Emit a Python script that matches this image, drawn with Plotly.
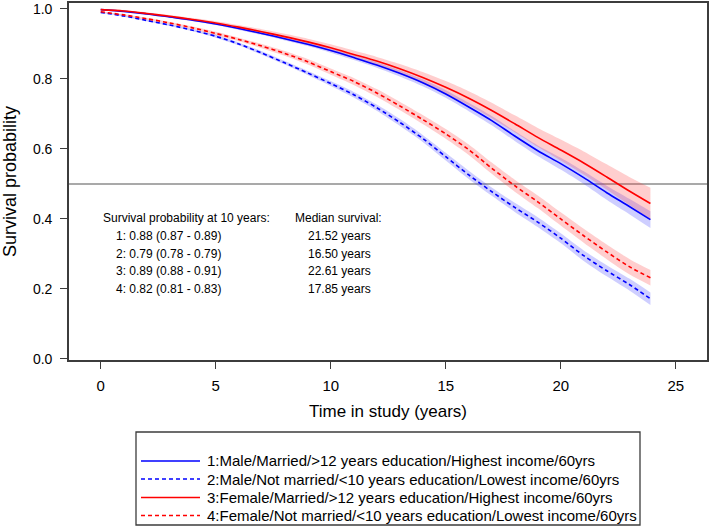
import plotly.graph_objects as go

# ---- data ----
time = [0, 1, 2, 3, 4, 5, 6, 7, 8, 9, 10, 11, 12, 13, 14, 15, 16, 17, 18, 19, 20, 21, 22, 23, 23.9]

s1 = [0.998, 0.993, 0.986, 0.977, 0.968, 0.957, 0.944, 0.930, 0.915, 0.899, 0.881, 0.861, 0.840,
      0.816, 0.789, 0.757, 0.720, 0.681, 0.637, 0.595, 0.558, 0.518, 0.475, 0.435, 0.398]
s2 = [0.990, 0.980, 0.967, 0.954, 0.939, 0.922, 0.900, 0.874, 0.846, 0.817, 0.787, 0.755, 0.718,
      0.676, 0.630, 0.578, 0.526, 0.478, 0.433, 0.391, 0.345, 0.295, 0.252, 0.212, 0.172]
s3 = [0.998, 0.994, 0.987, 0.979, 0.970, 0.960, 0.948, 0.935, 0.921, 0.906, 0.889, 0.870, 0.851,
      0.829, 0.804, 0.776, 0.745, 0.710, 0.672, 0.633, 0.597, 0.560, 0.520, 0.479, 0.444]
s4 = [0.992, 0.983, 0.972, 0.960, 0.946, 0.930, 0.913, 0.894, 0.873, 0.849, 0.821, 0.793, 0.760,
      0.723, 0.684, 0.643, 0.598, 0.545, 0.495, 0.449, 0.400, 0.352, 0.306, 0.263, 0.232]

# half-widths of the 95% confidence bands
hw1 = [0.001, 0.001, 0.002, 0.002, 0.003, 0.003, 0.004, 0.004, 0.005, 0.005, 0.006, 0.007, 0.008,
       0.009, 0.010, 0.011, 0.012, 0.013, 0.014, 0.015, 0.017, 0.018, 0.020, 0.022, 0.024]
hw2 = [0.001, 0.002, 0.002, 0.003, 0.003, 0.004, 0.004, 0.005, 0.005, 0.006, 0.007, 0.008, 0.009,
       0.010, 0.010, 0.011, 0.012, 0.012, 0.013, 0.014, 0.014, 0.015, 0.016, 0.017, 0.018]
hw3 = [0.002, 0.002, 0.003, 0.004, 0.004, 0.005, 0.006, 0.007, 0.008, 0.009, 0.010, 0.011, 0.012,
       0.014, 0.016, 0.018, 0.020, 0.022, 0.024, 0.027, 0.030, 0.033, 0.036, 0.040, 0.045]
hw4 = [0.001, 0.002, 0.003, 0.003, 0.004, 0.005, 0.005, 0.006, 0.007, 0.008, 0.009, 0.010, 0.011,
       0.012, 0.013, 0.014, 0.015, 0.016, 0.017, 0.018, 0.019, 0.020, 0.021, 0.022, 0.022]

labels = [
    "1:Male/Married/>12 years education/Highest income/60yrs",
    "2:Male/Not married/<10 years education/Lowest income/60yrs",
    "3:Female/Married/>12 years education/Highest income/60yrs",
    "4:Female/Not married/<10 years education/Lowest income/60yrs",
]
surv10_header = "Survival probability at 10 years:"
surv10 = ["1: 0.88 (0.87 - 0.89)", "2: 0.79 (0.78 - 0.79)",
          "3: 0.89 (0.88 - 0.91)", "4: 0.82 (0.81 - 0.83)"]
median_header = "Median survival:"
medians = ["21.52 years", "16.50 years", "22.61 years", "17.85 years"]

x_ticks = [0, 5, 10, 15, 20, 25]
y_ticks = [0.0, 0.2, 0.4, 0.6, 0.8, 1.0]

# ---- styling ----
FONT = "Liberation Sans, Arial, sans-serif"
BLUE = "rgb(0,0,255)"
RED = "rgb(255,0,0)"
BLUE_FILL = "rgba(60,60,255,0.25)"
RED_FILL = "rgba(255,60,60,0.25)"
DASH = "4px,3px"

series = [
    (s1, hw1, BLUE, BLUE_FILL, "solid"),
    (s2, hw2, BLUE, BLUE_FILL, DASH),
    (s3, hw3, RED, RED_FILL, "solid"),
    (s4, hw4, RED, RED_FILL, DASH),
]

fig = go.Figure()

# confidence bands
for s, hw, col, fill, dash in series:
    lo = [v - h for v, h in zip(s, hw)]
    hi = [v + h for v, h in zip(s, hw)]
    fig.add_trace(go.Scatter(x=time, y=lo, mode="lines",
                             line=dict(width=0, shape="spline", smoothing=0.8),
                             showlegend=False, hoverinfo="skip"))
    fig.add_trace(go.Scatter(x=time, y=hi, mode="lines",
                             line=dict(width=0, shape="spline", smoothing=0.8),
                             fill="tonexty", fillcolor=fill,
                             showlegend=False, hoverinfo="skip"))

# survival curves
for (s, hw, col, fill, dash), lab in zip(series, labels):
    fig.add_trace(go.Scatter(x=time, y=s, mode="lines", name=lab, showlegend=False,
                             line=dict(color=col, width=1.6, dash=dash,
                                       shape="spline", smoothing=0.8)))

# reference line at 0.5
fig.add_shape(type="line", xref="paper", x0=0, x1=1, yref="y", y0=0.5, y1=0.5,
              line=dict(color="rgb(140,140,140)", width=1.5), layer="below")

# pixel -> paper helpers (plot area in pixels)
PL, PR, PT, PB = 69, 707, 3, 360
def px_x(p):
    return (p - PL) / (PR - PL)
def px_y(p):
    return (PB - p) / (PB - PT)

# legend (frame, line samples, labels)
fig.add_shape(type="rect", xref="paper", yref="paper",
              x0=px_x(136), x1=px_x(640), y0=px_y(432), y1=px_y(525),
              line=dict(color="rgb(60,60,60)", width=1.3))
leg_rows = [461, 479, 497.5, 515.5]
for (s, hw, col, fill, dash), lab, ry in zip(series, labels, leg_rows):
    fig.add_shape(type="line", xref="paper", yref="paper",
                  x0=px_x(141), x1=px_x(200), y0=px_y(ry), y1=px_y(ry),
                  line=dict(color=col, width=1.6, dash=dash))
    fig.add_annotation(xref="paper", yref="paper", x=px_x(205), y=px_y(ry),
                       xanchor="left", yanchor="middle", showarrow=False, text=lab,
                       font=dict(size=15, color="black", family=FONT))

# text annotations inside plot
row_y = [0.352, 0.301, 0.250, 0.199]
annots = [dict(x=0.0, y=0.404, text=surv10_header, xanchor="left"),
          dict(x=8.37, y=0.404, text=median_header, xanchor="left")]
for i in range(4):
    annots.append(dict(x=0.58, y=row_y[i], text=surv10[i], xanchor="left"))
    annots.append(dict(x=8.93, y=row_y[i], text=medians[i], xanchor="left"))
for a in annots:
    fig.add_annotation(xref="x", yref="y", showarrow=False, yanchor="middle",
                       font=dict(size=12, color="black", family=FONT), **a)

axis_common = dict(showline=True, linecolor="rgb(60,60,60)", linewidth=1.6, mirror=True,
                   ticks="outside", ticklen=7, tickcolor="rgb(60,60,60)", tickwidth=1.3,
                   showgrid=False, zeroline=False, automargin=False,
                   ticklabeloverflow="allow")

fig.update_layout(
    width=709, height=526,
    margin=dict(l=PL, r=709 - PR, t=PT, b=526 - PB),
    paper_bgcolor="white", plot_bgcolor="white",
    font=dict(family=FONT, color="black"),
    showlegend=False,
    xaxis=dict(range=[-1.38, 26.36], tickvals=x_ticks, ticklabelstandoff=4,
               tickfont=dict(size=15, color="black", family=FONT),
               title=dict(text="Time in study (years)", font=dict(size=17), standoff=12),
               **axis_common),
    yaxis=dict(range=[-0.003, 1.017], tickvals=y_ticks, tickformat=".1f",
               ticklabelstandoff=5,
               tickfont=dict(size=14, color="black", family=FONT),
               title=dict(text="Survival probability", font=dict(size=18), standoff=12),
               **axis_common),
)

fig.write_html("out.html",
               config={"displayModeBar": False},
               post_script="document.body.style.margin='0';"
                           "document.body.style.overflow='hidden';")
